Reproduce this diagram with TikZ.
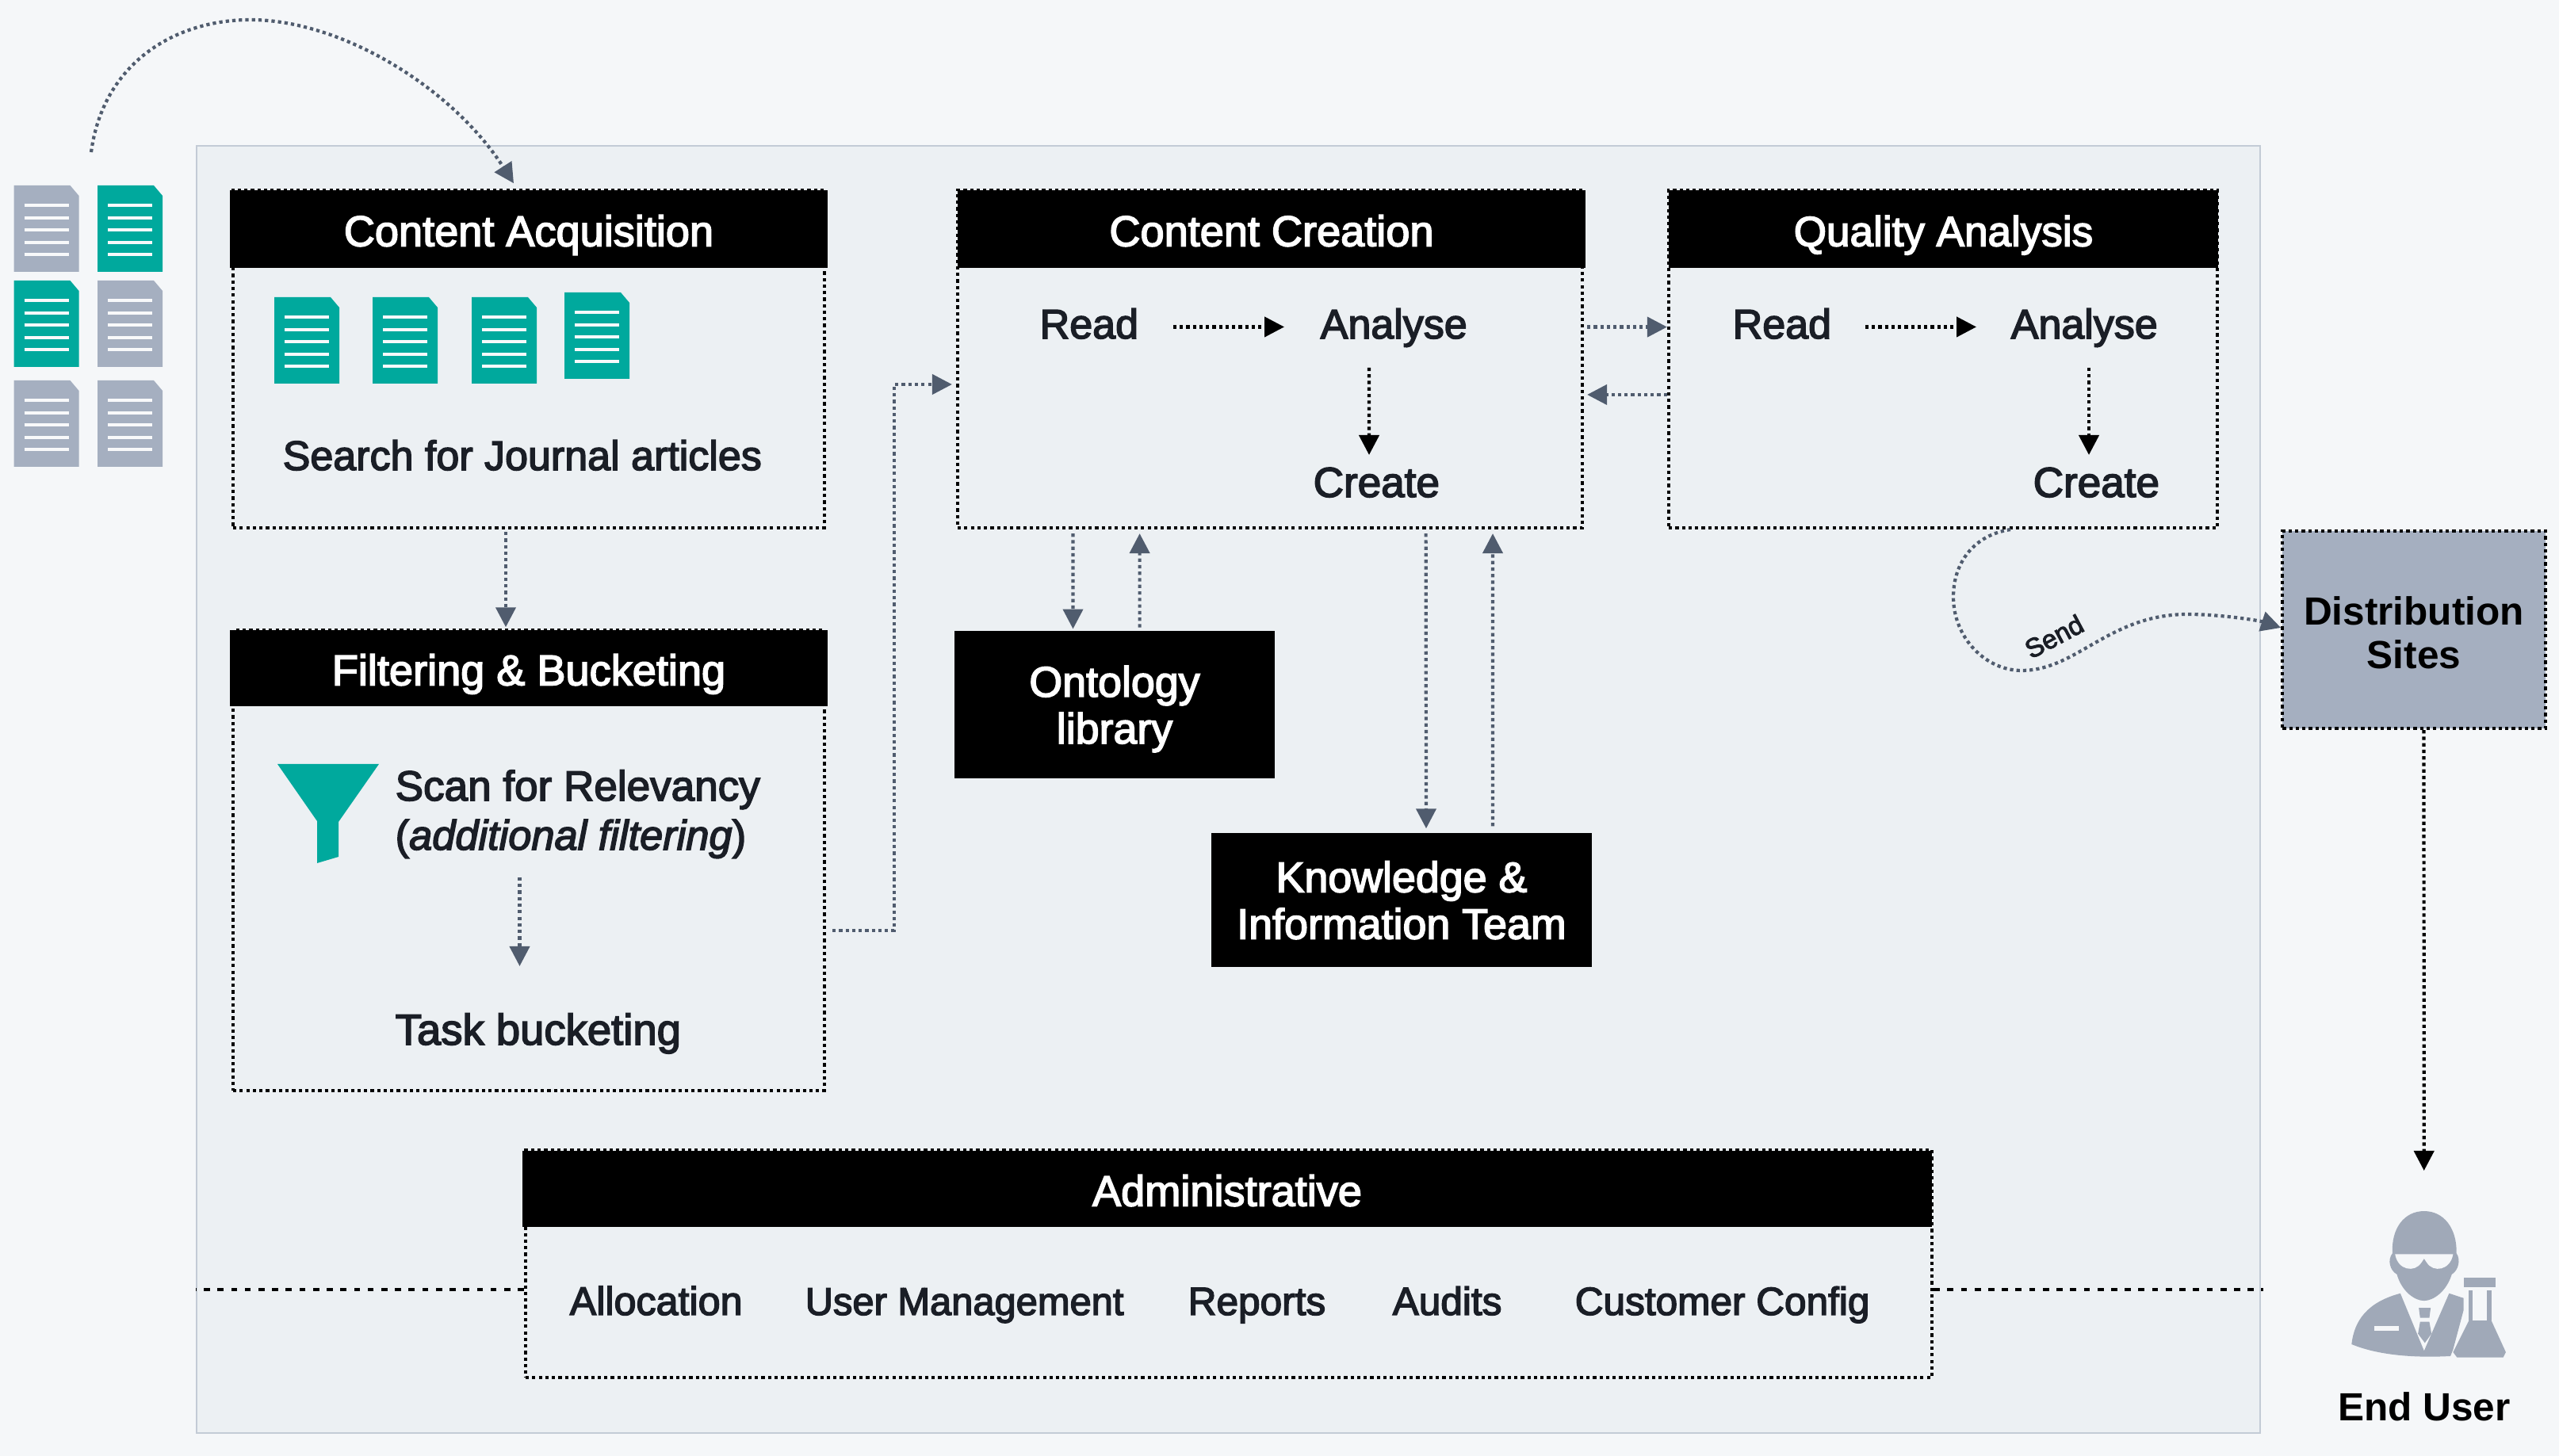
\documentclass[tikz,border=0pt]{standalone}
\usepackage{fontspec}
\setmainfont{Liberation Sans}
\newfontfamily\medfont[FakeBold=3]{Liberation Sans}
\usetikzlibrary{arrows.meta,positioning,calc}
\definecolor{pagebg}{RGB}{245,247,249}
\definecolor{panelbg}{RGB}{236,240,243}
\definecolor{panelrule}{RGB}{195,203,214}
\definecolor{docteal}{RGB}{0,169,157}
\definecolor{docgray}{RGB}{165,175,192}
\definecolor{usergray}{RGB}{160,169,184}
\definecolor{slateline}{RGB}{80,92,110}
\definecolor{inktext}{RGB}{26,30,38}
\tikzset{
  headbox/.style={rectangle,fill=black,text=white,inner sep=0pt,text height=.43cm,text depth=0pt,
    font=\medfont\fontsize{#1}{18}\selectfont},
  headbox/.default=15.4,
  bodybox/.style={rectangle,draw=black,line width=1.2pt,dash pattern=on 1.2pt off 1.15pt,inner sep=0pt},
  solidbox/.style={rectangle,fill=black,text=white,inner sep=0pt,align=center,text depth=0pt,
    font=\medfont\fontsize{15.3}{16.8}\selectfont},
  itemtext/.style={inner sep=0pt,anchor=base west,text=inktext,font=\medfont\fontsize{#1}{17}\selectfont},
  itemtext/.default=14.8,
  flowline/.style={-{Triangle[length=.25cm,width=.25cm]},line width=1.2pt,dash pattern=on 1.2pt off 1.15pt,draw=slateline},
  blackline/.style={-{Triangle[length=.25cm,width=.25cm]},line width=1.2pt,dash pattern=on 1.2pt off 1.15pt,draw=black},
  tierline/.style={line width=1.2pt,dash pattern=on 2.2pt off 2.7pt,draw=black},
  docrule/.style={line width=1.25pt,draw=white!92!docgray}
}
\newcommand{\docicon}[3]{
  \begin{scope}[shift={(#1,#2)}]
    \fill[#3] (0,0)--(.71,0)--(.82,-.13)--(.82,-1.09)--(0,-1.09)--cycle;
    \foreach \k in {.25,.41,.56,.72,.87}{
      \draw[docrule] (.13,-\k)--(.69,-\k);
    }
  \end{scope}
}
\begin{document}
\begin{tikzpicture}[
  boldtext/.style={inner sep=0pt,font=\bfseries\fontsize{14.1}{15.65}\selectfont,text=black}
]
\useasboundingbox (0,0) rectangle (32.28,18.37);
\fill[pagebg] (0,0) rectangle (32.28,18.37);

\node[rectangle,fill=panelbg,draw=panelrule,line width=.6pt,minimum width=26.03cm,minimum height=16.24cm] (panel) at (15.495,8.41) {};

\foreach \x/\y/\c in {.175/16.03/docgray,1.23/16.03/docteal,.175/14.83/docteal,1.23/14.83/docgray,.175/13.57/docgray,1.23/13.57/docgray}{
  \docicon{\x}{\y}{\c}
}
\foreach \x/\y in {3.46/14.62,4.70/14.62,5.95/14.62,7.12/14.68}{
  \docicon{\x}{\y}{docteal}
}

\node[bodybox,minimum width=7.46cm,minimum height=4.26cm] (ca) at (6.67,13.84) {};
\node[headbox,minimum width=7.54cm,minimum height=.98cm] (caHead) at (6.67,15.48) {Content Acquisition};
\node[itemtext] (searchLbl) at (3.56,12.44) {Search for Journal articles};

\node[bodybox,minimum width=7.46cm,minimum height=5.81cm] (fb) at (6.67,7.515) {};
\node[headbox,minimum width=7.54cm,minimum height=.96cm] (fbHead) at (6.67,9.94) {Filtering \& Bucketing};
\fill[docteal] (3.50,8.73)--(4.78,8.73)--(4.27,8.00)--(4.27,7.56)--(4.00,7.48)--(4.00,8.01)--cycle;
\node[itemtext=15.1] (scanA) at (4.98,8.27) {Scan for Relevancy};
\node[itemtext=14.9] (scanB) at (4.98,7.65) {({\itshape additional filtering})};
\node[itemtext=15.5] (taskLbl) at (4.98,5.19) {Task bucketing};

\node[bodybox,minimum width=7.88cm,minimum height=4.26cm] (cc) at (16.02,13.84) {};
\node[headbox,minimum width=7.92cm,minimum height=.98cm] (ccHead) at (16.04,15.48) {Content Creation};
\node[itemtext] (ccRead) at (13.11,14.10) {Read};
\node[itemtext] (ccAnalyse) at (16.65,14.10) {Analyse};
\node[itemtext=15.1] (ccCreate) at (16.56,12.10) {Create};

\node[bodybox,minimum width=6.92cm,minimum height=4.26cm] (qa) at (24.51,13.84) {};
\node[headbox=15.1,minimum width=6.93cm,minimum height=.98cm] (qaHead) at (24.515,15.48) {Quality Analysis};
\node[itemtext] (qaRead) at (21.85,14.10) {Read};
\node[itemtext] (qaAnalyse) at (25.36,14.10) {Analyse};
\node[itemtext=15.1] (qaCreate) at (25.64,12.10) {Create};

\node[solidbox,minimum width=4.045cm,minimum height=1.865cm] (onto) at (14.06,9.48) {Ontology\\library};
\node[solidbox,minimum width=4.805cm,minimum height=1.69cm] (kit) at (17.68,7.015) {Knowledge \&\\Information Team};

\node[rectangle,fill=docgray,draw=black,line width=1.2pt,dash pattern=on 1.2pt off 1.15pt,minimum width=3.315cm,minimum height=2.49cm] (dist) at (30.45,10.425) {};
\node[boldtext,align=center,text depth=0pt] (distLbl) at ([yshift=-.04cm]dist.center) {Distribution\\Sites};

\node[bodybox,minimum width=17.74cm,minimum height=2.87cm] (admin) at (15.50,2.425) {};
\node[headbox,minimum width=17.78cm,minimum height=.96cm] (adminHead) at (15.48,3.37) {Administrative};
\node[itemtext=14.3] (allocLbl) at (7.18,1.78) {Allocation};
\node[itemtext=13.9] (userLbl) at (10.15,1.78) {User Management};
\node[itemtext=14.1] (reportLbl) at (14.98,1.78) {Reports};
\node[itemtext=14.1] (auditLbl) at (17.56,1.78) {Audits};
\node[itemtext=14.1] (configLbl) at (19.86,1.78) {Customer Config};

\draw[tierline] ([yshift=-.325cm]admin.west)--(panel.west |- 0,2.10);
\draw[tierline] ([yshift=-.325cm]admin.east)--([xshift=.03cm]panel.east |- 0,2.10);

\coordinate (srcDocs) at (1.15,16.45);
\draw[flowline] (srcDocs) .. controls (1.30,17.57) and (2.20,18.12) .. (3.16,18.12)
  .. controls (4.30,18.12) and (5.70,17.27) .. ([xshift=-.19cm,yshift=.08cm]caHead.north);

\draw[flowline] ([xshift=-.29cm,yshift=-.03cm]ca.south)--([xshift=-.29cm,yshift=.03cm]fbHead.north);
\draw[flowline] ([xshift=1.575cm,yshift=-.35cm]scanB.base west)--([xshift=1.575cm,yshift=.99cm]taskLbl.base west);
\draw[flowline] ([xshift=.08cm,yshift=-.885cm]fb.east)-- ++(.78,0) |- ([xshift=-.05cm,yshift=-.32cm]cc.west);

\draw[blackline] ([xshift=.43cm,yshift=.145cm]ccRead.base east)--([xshift=-.45cm,yshift=.145cm]ccAnalyse.base west);
\draw[blackline] ([xshift=.62cm,yshift=-.37cm]ccAnalyse.base west)--([xshift=.71cm,yshift=.53cm]ccCreate.base west);
\draw[blackline] ([xshift=.42cm,yshift=.145cm]qaRead.base east)--([xshift=-.43cm,yshift=.145cm]qaAnalyse.base west);
\draw[blackline] ([xshift=.99cm,yshift=-.37cm]qaAnalyse.base west)--([xshift=.71cm,yshift=.53cm]qaCreate.base west);

\draw[flowline] ([yshift=.404cm,xshift=.04cm]cc.east)--([yshift=.404cm]qa.west);
\draw[flowline] ([yshift=-.45cm]qa.west)--([yshift=-.45cm,xshift=.04cm]cc.east);

\draw[flowline] ([xshift=-2.485cm,yshift=-.05cm]cc.south)--([xshift=-.525cm,yshift=.015cm]onto.north);
\draw[flowline] ([xshift=.316cm,yshift=.035cm]onto.north)--([xshift=-1.644cm,yshift=-.05cm]cc.south);
\draw[flowline] ([xshift=1.966cm,yshift=-.05cm]cc.south)--([xshift=.31cm,yshift=.05cm]kit.north);
\draw[flowline] ([xshift=1.15cm,yshift=.08cm]kit.north)--([xshift=2.81cm,yshift=-.05cm]cc.south);

\draw[flowline] ([xshift=.85cm]qa.south) .. controls (24.90,11.62) and (24.64,11.27) .. (24.64,10.84)
  .. controls (24.64,10.32) and (25.05,9.91) .. (25.50,9.91)
  .. controls (26.20,9.91) and (26.60,10.62) .. (27.60,10.62)
  .. controls (28.00,10.62) and (28.50,10.54) .. ([yshift=.025cm]dist.west);
\node[rotate=28,inner sep=0pt,text=inktext,font=\medfont\fontsize{9.5}{11}\selectfont] (sendLbl) at (25.91,10.34) {Send};

\coordinate (userTop) at (30.577,3.60);
\draw[blackline] ([xshift=.125cm]dist.south)--(userTop);

\begin{scope}[shift={(28,4.37)},x=.0033333cm,y=-.0033333cm]
  \fill[usergray] (500,890) .. controls (510,800) and (560,730) .. (685,697)--(775,915)--(870,697)
    --(925,715)--(925,760)--(885,910)--(875,935) .. controls (780,940) and (620,940) .. (500,890)--cycle;
  \fill[pagebg] (585,822) rectangle (680,838);
  \fill[usergray] (755,752)--(800,752)--(795,790)--(760,790)--cycle;
  \fill[usergray] (760,805)--(795,805)--(803,850)--(778,885)--(752,850)--cycle;
  \fill[usergray] (655,545) .. controls (650,450) and (700,385) .. (775,385)
    .. controls (850,385) and (900,450) .. (898,545) .. controls (915,570) and (905,610) .. (880,625)
    .. controls (860,690) and (810,725) .. (775,725) .. controls (740,725) and (690,690) .. (672,625)
    .. controls (645,610) and (635,570) .. (655,545)--cycle;
  \fill[pagebg] (665,548)--(885,548) .. controls (875,610) and (810,620) .. (785,580)--(775,565)--(765,580)
    .. controls (740,620) and (675,610) .. (665,548)--cycle;
  \fill[usergray] (925,638) rectangle (1045,675);
  \fill[usergray] (945,685) rectangle (960,800);
  \fill[usergray] (1012,685) rectangle (1030,800);
  \fill[usergray] (945,800)--(1030,800)--(1085,920)--(1075,940)--(900,940)--(885,920)--cycle;
\end{scope}
\node[boldtext,anchor=base] (endUserLbl) at (30.58,.44) {End User};

\end{tikzpicture}
\end{document}
